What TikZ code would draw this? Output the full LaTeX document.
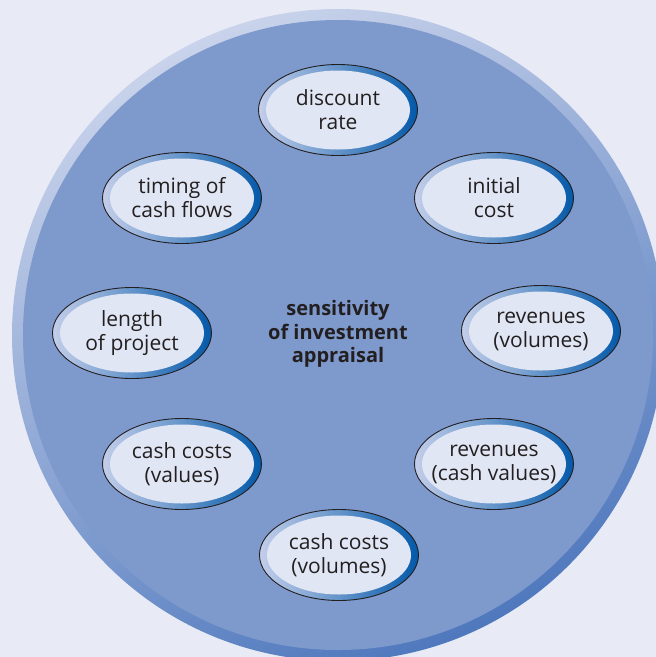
\documentclass[tikz,border=0pt]{standalone}
\usepackage{fontspec}
\setmainfont{Open Sans}
\usetikzlibrary{shapes.geometric}
\definecolor{bg}{HTML}{E8EBF6}
\definecolor{disc}{HTML}{7E99CC}
\definecolor{ringtop}{HTML}{C9D3EB}
\definecolor{ringbot}{HTML}{4F78BD}
\definecolor{bubL}{HTML}{C3CEEA}
\definecolor{bubR}{HTML}{0459A9}
\definecolor{bubin}{HTML}{E0E6F4}
\definecolor{txt}{HTML}{231F20}
\begin{document}
\begin{tikzpicture}[x=1pt,y=1pt,
  bubble/.style={ellipse, minimum width=159pt, minimum height=91pt, inner sep=0pt, outer sep=0pt,
    draw=txt, line width=0.9pt, left color=bubL, right color=bubR,
    path picture={\fill[bubin] (path picture bounding box.center) ellipse (72pt and 39.5pt);}},
  btext/.style={font=\fontsize{21}{24}\selectfont, text=txt, align=center, inner sep=0pt},
  ctext/.style={font=\fontsize{20}{23.5}\selectfont\bfseries, text=txt, align=center, inner sep=0pt}]
\useasboundingbox (0,0) rectangle (656,-657);
\fill[bg] (0,0) rectangle (656,-657);
\begin{scope}
  \clip (0,0) rectangle (656,-657);
  \shade[top color=ringtop, bottom color=ringbot, shading angle=25] (338,-335) circle (326);
  \fill[disc] (338,-335) circle (315);
\end{scope}
\node[bubble] (dr) at (338,-110) {};
\node[btext] (drt) at (dr) {discount\\rate};
\node[bubble] (tc) at (182,-198) {};
\node[btext] (tct) at (tc) {timing of\\cash flows};
\node[bubble] (ic) at (494,-198) {};
\node[btext] (ict) at (ic) {initial\\cost};
\node[bubble] (lp) at (132,-333) {};
\node[btext] (lpt) at (lp) {length\\of project};
\node[bubble] (rv) at (541,-331) {};
\node[btext] (rvt) at (rv) {revenues\\(volumes)};
\node[bubble] (cv) at (182,-464) {};
\node[btext] (cvt) at (cv) {cash costs\\(values)};
\node[bubble] (rc) at (494,-464) {};
\node[btext] (rct) at (rc) {revenues\\(cash values)};
\node[bubble] (cc) at (339,-555) {};
\node[btext] (cct) at (cc) {cash costs\\(volumes)};
\node[ctext] (c) at (338,-334) {sensitivity\\of investment\\appraisal};
\end{tikzpicture}
\end{document}
